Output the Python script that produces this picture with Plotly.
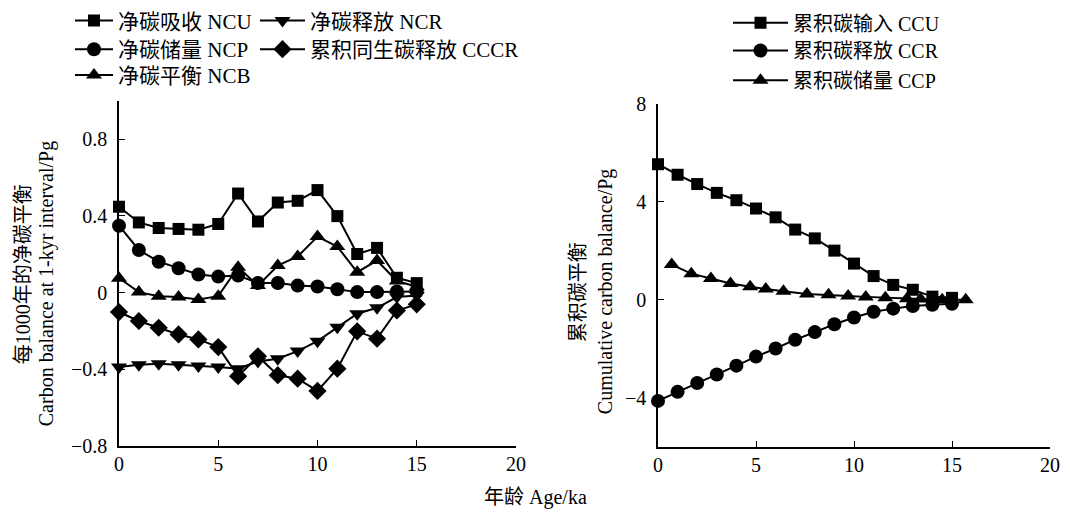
import plotly.graph_objects as go

# ---------------- data ----------------
age = list(range(16))

ncu = [0.448, 0.366, 0.337, 0.332, 0.328, 0.358, 0.517, 0.371, 0.470, 0.479,
       0.535, 0.399, 0.201, 0.233, 0.077, 0.049]
ncp = [0.349, 0.222, 0.161, 0.127, 0.094, 0.083, 0.089, 0.050, 0.050, 0.036,
       0.031, 0.017, 0.002, 0.002, 0.005, 0.005]
ncb = [0.075, 0.002, -0.019, -0.024, -0.036, -0.019, 0.132, 0.036, 0.141, 0.188,
       0.292, 0.240, 0.106, 0.167, 0.060, 0.030]
ncr = [-0.389, -0.377, -0.372, -0.377, -0.384, -0.389, -0.398, -0.360, -0.346, -0.306,
       -0.254, -0.181, -0.111, -0.080, -0.024, -0.016]
cccr = [-0.102, -0.149, -0.184, -0.219, -0.245, -0.285, -0.437, -0.333, -0.432, -0.450,
        -0.514, -0.398, -0.203, -0.241, -0.094, -0.062]

ccu = [5.54, 5.11, 4.73, 4.37, 4.07, 3.73, 3.37, 2.87, 2.51, 2.01,
       1.48, 0.97, 0.61, 0.41, 0.13, 0.08]
ccr = [-4.13, -3.76, -3.40, -3.05, -2.69, -2.32, -1.99, -1.63, -1.32, -1.00,
       -0.72, -0.49, -0.36, -0.25, -0.20, -0.16]
ccp_age = [0.7, 1.7, 2.7, 3.7, 4.7, 5.5, 6.4, 7.6, 8.7, 9.7,
           10.6, 11.6, 12.7, 13.4, 14.5, 15.7]
ccp = [1.44, 1.07, 0.87, 0.67, 0.53, 0.44, 0.35, 0.24, 0.21, 0.16,
       0.12, 0.08, 0.04, 0.03, 0.00, 0.00]

left_ticks = [-0.8, -0.4, 0, 0.4, 0.8]
right_ticks = [-4, 0, 4, 8]
x_ticks = [0, 5, 10, 15, 20]

FONT = "'Liberation Serif', 'Noto Sans CJK SC', serif"
FS = 20
W, H = 1070, 513

fig = go.Figure()


def add(x, y, name, symbol, size, xa, ya, legend):
    fig.add_trace(go.Scatter(
        x=x, y=y, name=name, mode="lines+markers",
        line=dict(color="black", width=2),
        marker=dict(symbol=symbol, size=size, color="black"),
        xaxis=xa, yaxis=ya, legend=legend,
        cliponaxis=False))


add(age, ncu, "净碳吸收 NCU", "square", 12, "x", "y", "legend")
add(age, ncp, "净碳储量 NCP", "circle", 14, "x", "y", "legend2")
add(age, ncb, "净碳平衡 NCB", "triangle-up", 14, "x", "y", "legend3")
add(age, ncr, "净碳释放 NCR", "triangle-down", 14, "x", "y", "legend4")
add(age, cccr, "累积同生碳释放 CCCR", "diamond", 14, "x", "y", "legend5")

add(age, ccu, "累积碳输入 CCU", "square", 12, "x2", "y2", "legend6")
add(age, ccr, "累积碳释放 CCR", "circle", 14, "x2", "y2", "legend7")
add(ccp_age, ccp, "累积碳储量 CCP", "triangle-up", 14, "x2", "y2", "legend8")

axis_common = dict(
    showline=True, linecolor="black", linewidth=1.5,
    ticks="inside", ticklen=6, tickwidth=1.2, tickcolor="black",
    showgrid=False, zeroline=False, mirror=False,
    tickfont=dict(family=FONT, size=FS, color="black"),
)


def leg(xpx, ypx, itemwidth, size):
    return dict(x=xpx / W, y=1 - ypx / H, xanchor="left", yanchor="middle",
                orientation="v", itemwidth=itemwidth, bgcolor="rgba(0,0,0,0)",
                font=dict(family=FONT, size=size, color="black"))


fig.update_layout(
    width=W, height=H, template="none",
    paper_bgcolor="white", plot_bgcolor="white",
    margin=dict(l=0, r=0, t=0, b=0),
    font=dict(family=FONT, size=FS, color="black"),
    xaxis=dict(domain=[119 / W, 516 / W], range=[0, 20], tickmode="array",
               tickvals=x_ticks, anchor="y", **axis_common),
    yaxis=dict(domain=[1 - 445 / H, 1 - 97 / H], range=[-0.8, 1.0], tickmode="array",
               tickvals=left_ticks, anchor="x", ticklabelstandoff=6, **axis_common),
    xaxis2=dict(domain=[658 / W, 1050 / W], range=[0, 20], tickmode="array",
                tickvals=x_ticks, anchor="y2", **axis_common),
    yaxis2=dict(domain=[1 - 446 / H, 1 - 100 / H], range=[-6, 8], tickmode="array",
                tickvals=right_ticks, anchor="x2", ticklabelstandoff=6, **axis_common),
    showlegend=True,
    legend=leg(70, 16, 38, 21),
    legend2=leg(70, 45, 38, 21),
    legend3=leg(70, 71, 38, 21),
    legend4=leg(255, 16, 45, 21),
    legend5=leg(255, 45, 45, 21),
    legend6=leg(728, 18, 55, 20),
    legend7=leg(728, 46, 55, 20),
    legend8=leg(728, 76, 55, 20),
)

ann = dict(showarrow=False, xref="paper", yref="paper", textangle=-90,
           xanchor="center", yanchor="middle",
           font=dict(family=FONT, size=FS, color="black"))
fig.add_annotation(text="每1000年的净碳平衡", x=23 / W, y=1 - 272 / H, **ann)
fig.add_annotation(text="Carbon balance at 1-kyr interval/Pg", x=46 / W, y=1 - 282 / H, **ann)
fig.add_annotation(text="累积碳平衡", x=578 / W, y=1 - 290 / H, **ann)
fig.add_annotation(text="Cumulative carbon balance/Pg", x=605 / W, y=1 - 290 / H, **ann)
fig.add_annotation(text="年龄 Age/ka", x=535 / W, y=1 - 497 / H, showarrow=False,
                   xref="paper", yref="paper", xanchor="center", yanchor="middle",
                   font=dict(family=FONT, size=FS, color="black"))

fig.write_html("out.html")
